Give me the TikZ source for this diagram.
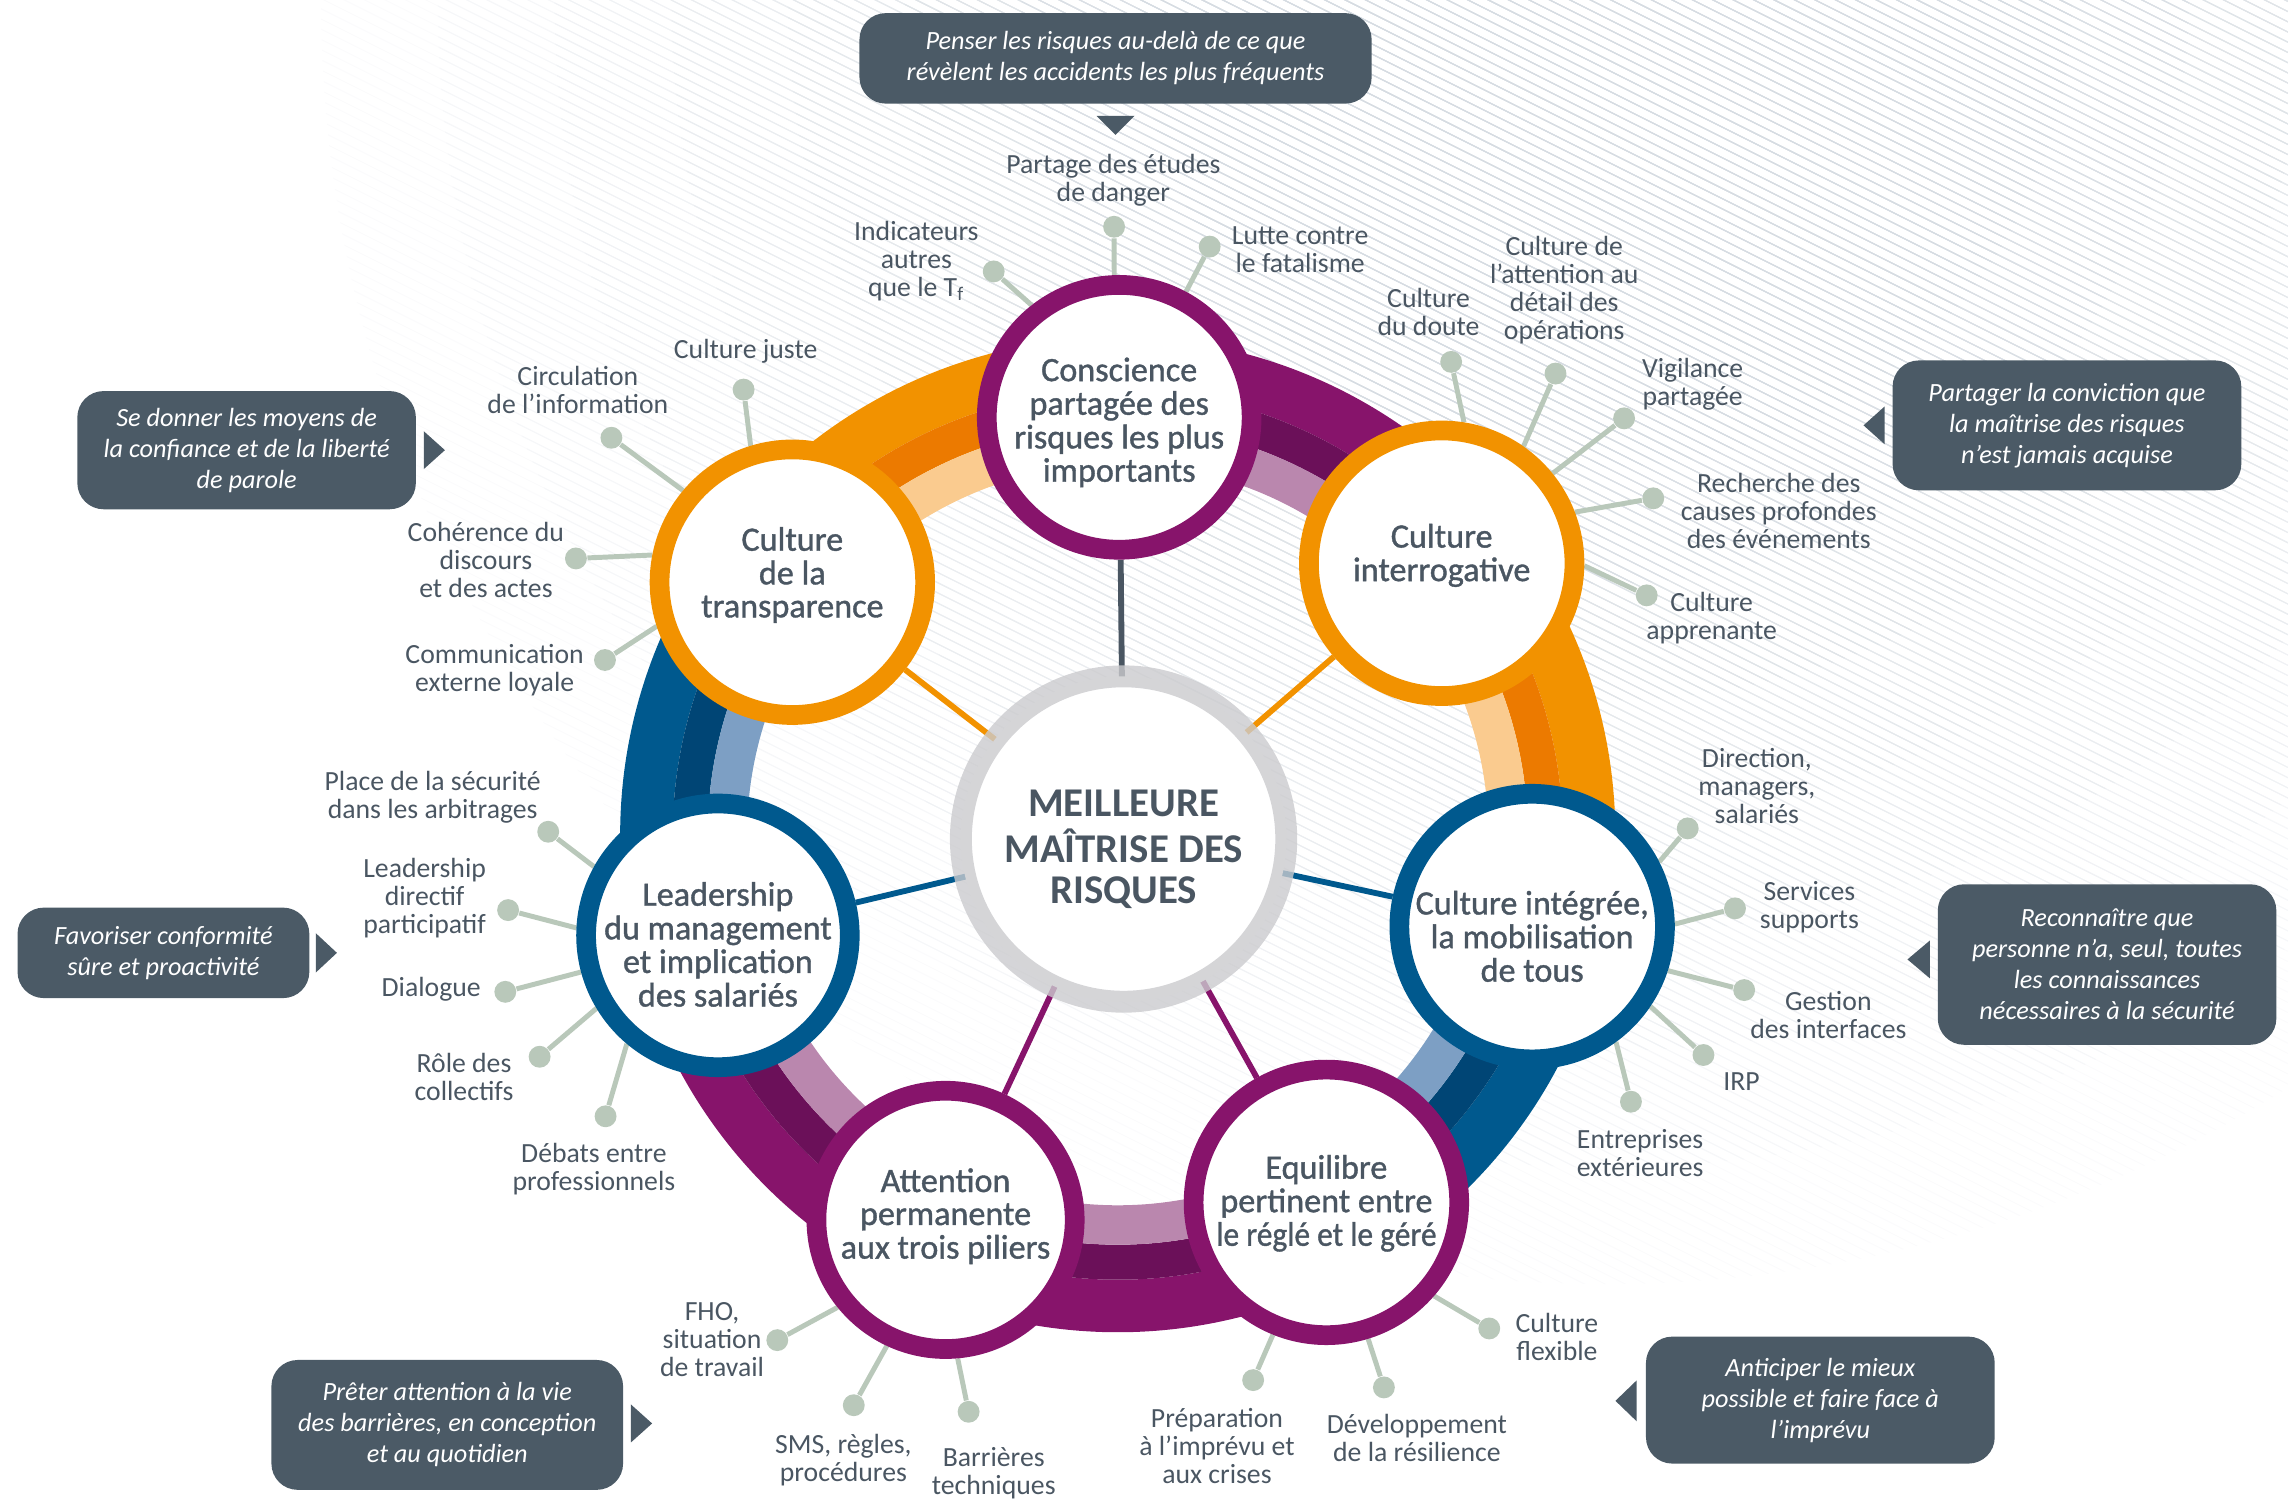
\documentclass[tikz,border=0pt]{standalone}
\usepackage{fontspec}
\setmainfont{Carlito}
\newfontfamily\satfont[FakeBold=1.1]{Carlito}
\usetikzlibrary{calc}
\pgfdeclarelayer{back}
\pgfdeclarelayer{mid}
\pgfsetlayers{back,mid,main}
\definecolor{pur}{HTML}{87146B}
\definecolor{purD}{HTML}{6B1059}
\definecolor{purL}{HTML}{BA87AE}
\definecolor{ora}{HTML}{F29200}
\definecolor{oraD}{HTML}{EC7A00}
\definecolor{oraL}{HTML}{FACB8F}
\definecolor{blu}{HTML}{00598E}
\definecolor{bluD}{HTML}{004575}
\definecolor{bluL}{HTML}{7D9FC4}
\definecolor{txtc}{HTML}{4A5662}
\definecolor{dotc}{HTML}{B9C8BA}
\definecolor{boxc}{HTML}{4B5A66}
\definecolor{ringg}{HTML}{CBCBCE}
\definecolor{stripec}{HTML}{D6DCE2}
\newcommand\annsec[5]{\fill[#1] ($(766,572)+(#2:#5)$) arc[start angle=#2, end angle=#3, radius=#5] -- ($(766,572)+(#3:#4)$) arc[start angle=#3, end angle=#2, radius=#4] -- cycle;}
\newcommand\trackseg[3]{\annsec{#1}{#2}{#3}{305}{341}\annsec{#1D}{#2}{#3}{281}{305}\annsec{#1L}{#2}{#3}{254}{281}}
\newcommand\stxt[2]{\raisebox{#1}[\height][\depth]{\begin{tabular}{@{}c@{}}#2\end{tabular}}}
\begin{document}
\begin{tikzpicture}[x=0.5pt, y=-0.5pt,
  sat/.style={circle, draw=#1, line width=6.75pt, fill=white, text=txtc, align=center, inner sep=0pt, font=\satfont\fontsize{11.7}{11.3}\selectfont},
  cen/.style={circle, draw=ringg, line width=7.5pt, fill=white, text=txtc, align=center, inner sep=0pt, font=\fontsize{14}{14}\selectfont\bfseries, minimum size=111.5pt},
  lbl/.style={text=txtc, align=center, inner sep=0pt, font=\fontsize{9.5}{9.6}\selectfont},
  dotn/.style={circle, fill=dotc, minimum size=7.5pt, inner sep=0pt},
  leg/.style={draw=dotc, line width=1.7pt},
  spoke/.style={line width=2pt, draw=#1},
  cbox/.style={fill=boxc, rounded corners=9pt, text=white, align=center, inner sep=0pt, font=\fontsize{9}{10.6}\selectfont\itshape},
  tri/.style={fill=boxc},
  stripe/.style={line width=0.35pt}]
\useasboundingbox (0,0) rectangle (1568,1028.6);

\begin{pgfonlayer}{back}
\begin{scope}
  \clip (0,0) rectangle (1568,1028.6);
  \foreach \r/\p in {880/10,800/22,720/36,640/50,560/64,480/78,400/90,320/100} {
    \begin{scope}
      \clip (1100,0) circle[radius=\r];
      \draw[stripe, draw=stripec!\p!white] foreach \k in {0,...,262} {(-10,{-795+7*\k}) -- ++(1600,800)};
    \end{scope}
  }
\end{scope}
\trackseg{pur}{-90}{-40}
\trackseg{ora}{-40}{13}
\trackseg{blu}{13}{60}
\trackseg{pur}{60}{115}
\trackseg{pur}{115}{166}
\trackseg{blu}{166}{219}
\trackseg{ora}{219}{270}
\end{pgfonlayer}

% centre and satellites
\node[cen, draw opacity=0.8] (cen) at (770,575) {\stxt{-4.5pt}{MEILLEURE\\MAÎTRISE DES\\RISQUES}};
\node[sat=pur, minimum size=90.75pt] (con) at (767,286) {\stxt{-2.5pt}{Conscience\\partagée des\\risques les plus\\importants}};
\node[sat=ora, minimum size=91pt] (itr) at (988,386) {\stxt{2pt}{Culture\\interrogative}};
\node[sat=ora, minimum size=91pt] (tra) at (543,399) {\stxt{1.75pt}{Culture\\de la\\transparence}};
\node[sat=blu, minimum size=89.5pt] (lea) at (492,641) {\stxt{-4.75pt}{Leadership\\du management\\et implication\\des salariés}};
\node[sat=blu, minimum size=91pt] (int) at (1050,635) {\stxt{-5pt}{Culture intégrée,\\la mobilisation\\de tous}};
\node[sat=pur, minimum size=88.5pt] (att) at (648,836) {\stxt{0.5pt}{Attention\\permanente\\aux trois piliers}};
\node[sat=pur, minimum size=91pt] (equ) at (909,824) {\stxt{-1pt}{Equilibre\\pertinent entre\\\scalebox{0.92}[1]{le réglé et le géré}}};

% dots
\node[dotn] (d1) at (763.5,155.4) {};
\node[dotn] (d2) at (681,186) {};
\node[dotn] (d3) at (829,169) {};
\node[dotn] (d4) at (994.5,248) {};
\node[dotn] (d5) at (1066,256) {};
\node[dotn] (d6) at (1113,286.7) {};
\node[dotn] (d7) at (1133,341.5) {};
\node[dotn] (d8) at (1128.5,408) {};
\node[dotn] (d9) at (509.6,267) {};
\node[dotn] (d10) at (419,300) {};
\node[dotn] (d11) at (394.7,382.7) {};
\node[dotn] (d12) at (414.6,452.3) {};
\node[dotn] (d13) at (375.7,570) {};
\node[dotn] (d14) at (348.2,623.7) {};
\node[dotn] (d15) at (346.3,679.7) {};
\node[dotn] (d16) at (369.8,724.2) {};
\node[dotn] (d17) at (415,765) {};
\node[dotn] (d18) at (1156.6,567.7) {};
\node[dotn] (d19) at (1189,622.5) {};
\node[dotn] (d20) at (1195.3,678.5) {};
\node[dotn] (d21) at (1167.4,723) {};
\node[dotn] (d22) at (1117.7,755) {};
\node[dotn] (d23) at (532.7,918.4) {};
\node[dotn] (d24) at (585.1,963) {};
\node[dotn] (d25) at (663.8,967.5) {};
\node[dotn] (d26) at (858.8,945.8) {};
\node[dotn] (d27) at (948.4,950.8) {};
\node[dotn] (d28) at (1020.6,910.4) {};

% labels
\node[lbl] (l1) at (763,123.5) {Partage des études\\de danger};
\node[lbl] (l2) at (628,179) {Indicateurs\\autres\\que le T\textsubscript{f}};
\node[lbl] (l3) at (891,171) {Lutte contre\\le fatalisme};
\node[lbl] (l4) at (979,213.5) {Culture\\du doute};
\node[lbl] (l5) at (1072,198.5) {Culture de\\l’attention au\\détail des\\opérations};
\node[lbl] (l6) at (1160,263.5) {Vigilance\\partagée};
\node[lbl] (l7) at (1219,350) {Recherche des\\causes profondes\\des événements};
\node[lbl] (l8) at (1173,423.5) {Culture\\apprenante};
\node[lbl] (l9) at (511,241) {Culture juste};
\node[lbl] (l10) at (396,267.5) {Circulation\\de l’information};
\node[lbl] (l11) at (333,383.5) {Cohérence du\\discours\\et des actes};
\node[lbl] (l12) at (339,459.5) {Communication\\externe loyale};
\node[lbl] (l13) at (296.5,546.5) {Place de la sécurité\\dans les arbitrages};
\node[lbl] (l14) at (291,615.5) {Leadership\\directif\\participatif};
\node[lbl] (l15) at (295.5,678) {Dialogue};
\node[lbl] (l16) at (318,738) {Rôle des\\collectifs};
\node[lbl] (l17) at (407,801.5) {Débats entre\\professionnels};
\node[lbl] (l18) at (1204,538.5) {Direction,\\managers,\\salariés};
\node[lbl] (l19) at (1240,621.5) {Services\\supports};
\node[lbl] (l20) at (1253,695.5) {Gestion\\des interfaces};
\node[lbl] (l21) at (1193.5,741) {IRP};
\node[lbl] (l22) at (1124,790) {Entreprises\\extérieures};
\node[lbl] (l23) at (488,918) {FHO,\\situation\\de travail};
\node[lbl] (l24) at (578,1000.5) {SMS, règles,\\procédures};
\node[lbl] (l25) at (681,1009.5) {Barrières\\techniques};
\node[lbl] (l26) at (834,991) {Préparation\\à l’imprévu et\\aux crises};
\node[lbl] (l27) at (971,985.5) {Développement\\de la résilience};
\node[lbl] (l28) at (1067,916.5) {Culture\\flexible};

% callout boxes
\node[cbox, minimum width=175.5pt, minimum height=31pt] (b1) at (764.5,40) {Penser les risques au-delà de ce que\\révèlent les accidents les plus fréquents};
\node[cbox, minimum width=116pt, minimum height=40.5pt] (b2) at (169,308.5) {Se donner les moyens de\\la confiance et de la liberté\\de parole};
\node[cbox, minimum width=119.5pt, minimum height=44.5pt] (b3) at (1416.5,291.5) {Partager la conviction que\\la maîtrise des risques\\n’est jamais acquise};
\node[cbox, minimum width=100pt, minimum height=31pt] (b4) at (112,653) {Favoriser conformité\\sûre et proactivité};
\node[cbox, minimum width=116pt, minimum height=55pt] (b5) at (1444,661) {Reconnaître que\\personne n’a, seul, toutes\\les connaissances\\nécessaires à la sécurité};
\node[cbox, minimum width=120.5pt, minimum height=44.5pt] (b6) at (306.5,976.5) {Prêter attention à la vie\\des barrières, en conception\\et au quotidien};
\node[cbox, minimum width=119.5pt, minimum height=43.5pt] (b7) at (1247.5,959.5) {Anticiper le mieux\\possible et faire face à\\l’imprévu};

\fill[tri] ($(b1.south)+(-13,8)$) -- ($(b1.south)+(13,8)$) -- ($(b1.south)+(0,21)$) -- cycle;
\fill[tri] ($(b2.east)+(5,-13)$) -- ($(b2.east)+(19.5,0)$) -- ($(b2.east)+(5,13)$) -- cycle;
\fill[tri] ($(b3.west)+(-5,-13)$) -- ($(b3.west)+(-19.5,0)$) -- ($(b3.west)+(-5,13)$) -- cycle;
\fill[tri] ($(b4.east)+(4,-13.5)$) -- ($(b4.east)+(18.5,0)$) -- ($(b4.east)+(4,13.5)$) -- cycle;
\fill[tri] ($(b5.west)+(-5,-16.5)$) -- ($(b5.west)+(-20.4,-3.5)$) -- ($(b5.west)+(-5,9.5)$) -- cycle;
\fill[tri] ($(b6.east)+(5,-14)$) -- ($(b6.east)+(19.5,-1)$) -- ($(b6.east)+(5,12)$) -- cycle;
\fill[tri] ($(b7.west)+(-6,-13.5)$) -- ($(b7.west)+(-20.5,0.5)$) -- ($(b7.west)+(-6,14.5)$) -- cycle;

\begin{pgfonlayer}{mid}
\draw[spoke=txtc] (cen.center) -- (con);
\draw[spoke=ora] (cen.center) -- (itr);
\draw[spoke=ora] (cen.center) -- (tra);
\draw[spoke=blu] (cen.center) -- (lea);
\draw[spoke=blu] (cen.center) -- (int);
\draw[spoke=pur] (cen.center) -- (att);
\draw[spoke=pur] (cen.center) -- (equ);
\draw[leg] (con.92) -- (d1);
\draw[leg] (con.128) -- (d2);
\draw[leg] (con.62) -- (d3);
\draw[leg] (itr.81) -- (d4);
\draw[leg] (itr.55) -- (d5);
\draw[leg] (itr.39) -- (d6);
\draw[leg] (itr.21) -- (d7);
\draw[leg] (itr.-1) -- (d8);
\draw[leg] (tra.107) -- (d9);
\draw[leg] (tra.140) -- (d10);
\draw[leg] (tra.169) -- (d11);
\draw[leg] (tra.198) -- (d12);
\draw[leg] (lea.151) -- (d13);
\draw[leg] (lea.177) -- (d14);
\draw[leg] (lea.195) -- (d15);
\draw[leg] (lea.211) -- (d16);
\draw[leg] (lea.230) -- (d17);
\draw[leg] (int.27) -- (d18);
\draw[leg] (int.1) -- (d19);
\draw[leg] (int.-18) -- (d20);
\draw[leg] (int.-34) -- (d21);
\draw[leg] (int.-54) -- (d22);
\draw[leg] (att.219) -- (d23);
\draw[leg] (att.245) -- (d24);
\draw[leg] (att.275) -- (d25);
\draw[leg] (equ.248) -- (d26);
\draw[leg] (equ.287) -- (d27);
\draw[leg] (equ.319) -- (d28);
\end{pgfonlayer}
\end{tikzpicture}
\end{document}
